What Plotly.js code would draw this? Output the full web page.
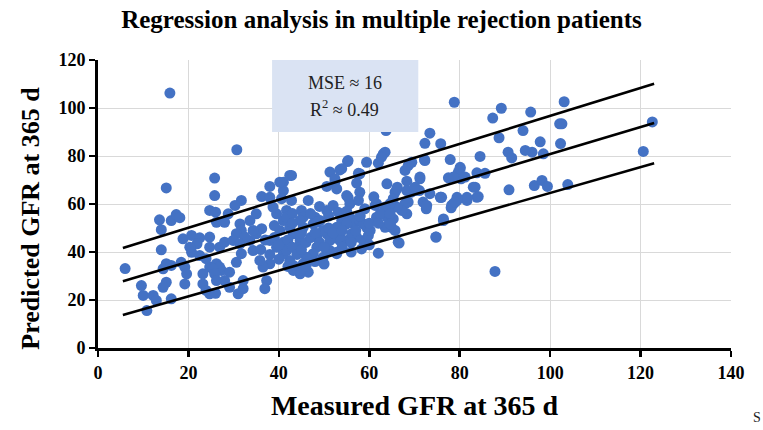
<!DOCTYPE html>
<html>
<head>
<meta charset="utf-8">
<script src="https://cdn.plot.ly/plotly-3.0.1.min.js"></script>
<style>html,body{margin:0;padding:0;background:#fff;}#chart{width:763px;height:430px;}</style>
</head>
<body>
<div id="chart"></div>
<script>
// Measured GFR at 365 d (x) and Predicted GFR at 365 d (y)
const measured = [
15.9,15.1,30.7,6.0,87.8,78.8,122.6,120.6,103.1,102.1,102.6,97.8,102.3,96.0,98.5,95.7,96.5,98.2,99.4,103.9,
87.3,89.2,94.0,88.7,84.5,90.7,91.5,94.5,83.8,85.6,83.4,83.8,90.9,
73.4,72.3,75.8,77.9,72.2,67.9,68.6,69.4,80.1,79.7,80.3,77.5,71.2,68.3,66.2,65.7,84.1,81.6,79.4,78.6,78.1,75.8,71.1,70.1,69.2,71.9,72.6,76.4,74.8,67.9,68.3,67.2,66.1,65.3,64.6,65.3,64.9,65.7,66.6,
55.2,59.4,62.0,63.1,51.3,53.5,57.6,42.8,41.0,41.0,38.0,36.2,50.6,52.4,52.8,57.2,57.9,55.3,55.7,46.5,45.0,45.4,41.7,39.5,38.7,41.0,42.8,36.2,33.6,35.0,48.0,49.1,50.6,52.0,53.1,53.9,53.1,55.7,56.5,57.9,59.4,61.3,61.6,63.5,63.9,63.5,62.0,58.7,59.8,57.2,55.0,52.8,51.3,49.8,48.4,47.6,46.1,45.4,46.5,44.7,43.2,42.4,41.0,39.5,38.0,38.0,36.5,35.8,37.3,36.9,34.3,33.6,35.0,34.3,40.2,43.2,41.0,44.7,48.4,50.6,53.5,47.6,45.4,40.6,38.0,
25.8,25.8,31.7,30.3,24.7,26.0,28.8,28.0,26.2,13.6,16.2,17.3,18.1,14.0,14.0,18.8,20.7,22.5,21.9,20.7,24.7,18.4,19.2,19.6,19.2,15.1,14.4,16.2,15.1,14.4,16.2,9.6,10.0,12.2,12.9,10.8,23.2,23.9,24.7,26.0,23.2,24.7,26.2,27.3,20.3,22.5,23.9,26.9,28.0,26.9,29.1,28.0,30.6,31.7,32.1,24.7,31.4,31.7,30.6,32.5,29.9,31.4,25.4,25.8,29.1,31.0,32.1,26.2,
63.7,63.5,62.7,55.3,57.9,53.9,52.4,42.4,40.2,72.3,71.2,73.4,75.7,63.9,66.1,68.3,70.1,78.6,80.1,81.2,83.0,81.6,79.4,
55.0,57.6,61.6,62.4,64.6,64.6,68.6,72.7,76.0,78.2,79.0,76.4,74.7,66.4,58.3,52.8,44.7,43.2,56.1,53.5,51.3,58.7,60.2,55.0,52.8,48.4,49.8,41.7,42.4,44.7,44.7,41.7,
39,40,42,43,44,45,46,47,48,49,50,51,52,54,56,57,58,60,62,47,49,43,39,37,36,38,40,42,46,48,50,54,56,60,45,43,51,55,59,61
];
const predicted = [
106.2,66.7,82.6,33.1,31.9,102.4,94.2,81.9,102.6,93.4,93.4,85.9,85.2,81.6,80.9,98.3,67.7,69.8,67.3,68.1,
95.8,99.9,90.6,87.6,79.8,81.6,79.2,82.3,73.0,72.8,67.0,62.8,65.9,
89.5,85.3,85.1,78.5,78.5,74.0,76.0,77.4,75.3,73.3,70.5,70.9,70.5,69.5,67.0,64.9,63.1,61.5,61.5,60.1,58.4,62.8,65.6,65.6,64.9,60.8,58.0,53.8,46.2,60.1,55.9,57.3,58.7,62.2,60.1,53.8,50.3,49.0,43.7,
77.7,77.4,77.0,80.9,73.3,74.2,72.8,71.9,69.1,65.6,67.3,63.1,67.3,69.1,66.3,68.7,64.9,62.8,60.1,61.5,57.3,54.5,57.3,55.9,58.7,53.1,61.5,49.7,53.1,55.9,54.5,53.1,57.3,59.4,56.6,53.1,50.3,54.5,51.7,53.1,50.3,59.4,54.5,58.7,54.5,50.3,39.5,44.8,46.9,46.2,44.8,39.3,40.6,37.8,42.0,39.3,37.8,35.1,31.6,30.9,32.3,36.5,39.3,42.0,44.8,35.1,33.7,36.5,28.1,24.7,40.6,44.8,47.6,49.0,49.0,47.6,44.1,44.8,46.2,47.6,44.8,51.7,50.3,62.2,62.8,
70.8,63.5,61.5,59.4,57.3,56.6,55.9,52.4,52.4,53.4,53.1,55.6,54.3,49.3,40.9,45.5,46.9,45.9,43.4,39.9,42.0,35.7,33.7,30.9,26.7,35.1,33.0,34.4,27.4,25.3,20.5,26.0,21.9,21.9,19.8,15.6,26.7,24.0,22.6,22.8,30.9,33.7,35.1,32.3,42.0,38.5,37.2,42.0,44.1,33.7,31.6,28.1,35.7,39.3,28.1,46.2,51.7,49.0,47.6,46.2,44.8,43.4,33.0,30.9,25.3,22.6,24.7,28.1,
90.6,81.6,79.5,78.1,72.6,74.7,70.5,71.9,69.1,78.1,71.2,64.3,62.8,68.4,66.3,65.6,67.0,71.2,74.7,71.2,67.0,62.8,62.8,
63.5,61.5,60.1,55.9,55.9,51.7,60.8,59.4,62.8,59.4,60.8,53.1,46.2,44.1,41.3,39.9,32.3,34.4,47.6,46.2,44.8,51.7,49.0,51.7,50.3,52.4,49.0,54.5,50.3,53.1,42.0,40.6,
46,43,45,42,39,41,44,46,48,44,42,50,48,49,44,49,55,52,52,56,59,56,51,45,41,39,37,34,34,36,35,42,40,43,48,52,55,57,58,63
];
// Regression line and band end points (x start/end, y start/end)
const lineX = [5.5, 123];
const upperY = [41.7, 110.1];
const fitY = [27.8, 93.7];
const lowerY = [13.7, 77.0];
const xTicks = [0,20,40,60,80,100,120,140];
const yTicks = [0,20,40,60,80,100,120];

const serif = "'Liberation Serif','Times New Roman',serif";
const lineStyle = {color:'#000', width:2.6};
const traces = [
  {x: measured, y: predicted, type:'scatter', mode:'markers',
   marker:{color:'#4472C4', size:11, line:{width:0}}, hoverinfo:'x+y'},
  {x: lineX, y: upperY, type:'scatter', mode:'lines', line:lineStyle},
  {x: lineX, y: fitY, type:'scatter', mode:'lines', line:lineStyle},
  {x: lineX, y: lowerY, type:'scatter', mode:'lines', line:lineStyle}
];
const layout = {
  width:763, height:430,
  margin:{l:98, r:32, t:60, b:82},
  paper_bgcolor:'#fff', plot_bgcolor:'#fff',
  showlegend:false,
  title:{text:'Regression analysis in multiple rejection patients', x:0.5, xanchor:'center', y:0.955, yanchor:'middle',
         font:{family:serif, size:25, weight:'bold', color:'#000'}},
  xaxis:{range:[0,140], tickvals:xTicks, showgrid:true, gridcolor:'#d9d9d9', gridwidth:1,
         showline:true, linecolor:'#000', linewidth:3, zeroline:false,
         ticks:'outside', ticklen:6, tickwidth:2.5, tickcolor:'#000',
         tickfont:{family:serif, size:18, weight:'bold', color:'#000'},
         title:{text:'Measured GFR at 365 d', standoff:14, font:{family:serif, size:28, weight:'bold', color:'#000'}}},
  yaxis:{range:[0,120], tickvals:yTicks, showgrid:true, gridcolor:'#d9d9d9', gridwidth:1,
         showline:true, linecolor:'#000', linewidth:3, zeroline:false,
         ticks:'outside', ticklen:6, tickwidth:2.5, tickcolor:'#000',
         tickfont:{family:serif, size:18, weight:'bold', color:'#000'}},
  shapes:[{type:'rect', xref:'paper', yref:'paper', x0:0.275, x1:0.506, y0:0.75, y1:1.0,
           fillcolor:'#DAE3F3', line:{width:0}, layer:'above'}],
  annotations:[
    {xref:'paper', yref:'paper', x:-0.107, y:0.45, xanchor:'center', yanchor:'middle', textangle:-90,
     text:'<b>Predicted GFR at 365 d</b>', showarrow:false,
     font:{family:serif, size:26, weight:'bold', color:'#000'}},
    {xref:'paper', yref:'paper', x:0.39, y:0.92, yanchor:'middle', text:'MSE ≈ 16', showarrow:false,
     font:{family:serif, size:18, color:'#222'}},
    {xref:'paper', yref:'paper', x:0.39, y:0.833, yanchor:'middle', text:'R<sup>2</sup> ≈ 0.49', showarrow:false,
     font:{family:serif, size:18, color:'#222'}},
    {xref:'paper', yref:'paper', x:1.041, y:-0.243, xanchor:'center', yanchor:'middle', text:'S', showarrow:false,
     font:{family:serif, size:14, color:'#222'}}
  ]
};
Plotly.newPlot('chart', traces, layout, {displayModeBar:false, staticPlot:true});
</script>
</body>
</html>
